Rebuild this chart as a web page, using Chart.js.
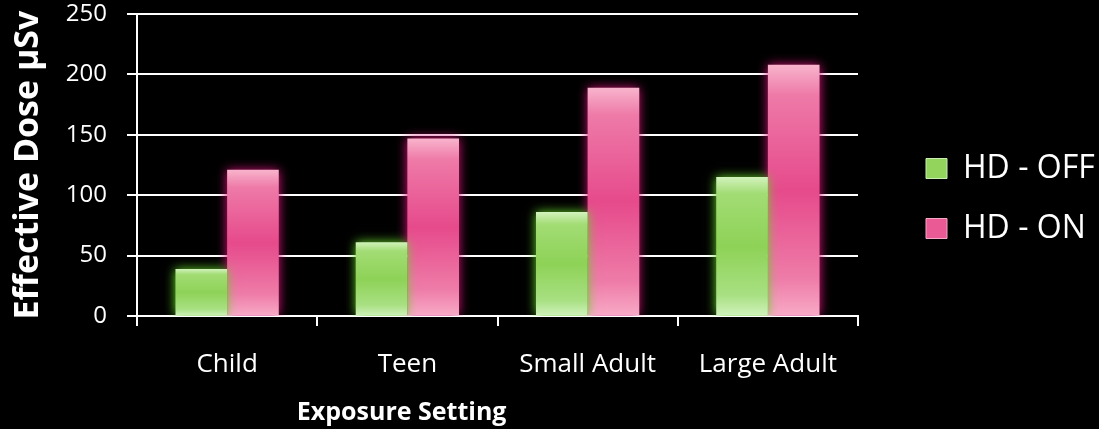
<!DOCTYPE html>
<html>
<head>
<meta charset="utf-8">
<script src="https://cdn.jsdelivr.net/npm/chart.js@4.4.1/dist/chart.umd.min.js"></script>
<style>
  html, body { margin: 0; padding: 0; background: #000; }
  #wrap { width: 1099px; height: 429px; }
</style>
</head>
<body>
<div id="wrap"><canvas id="chart1"></canvas></div>
<script>
// values
var categories = ['Child', 'Teen', 'Small Adult', 'Large Adult'];
var hdOff = [39, 61, 86, 115];
var hdOn = [121, 147, 189, 208];
var yTicks = [0, 50, 100, 150, 200, 250];
var xTitle = 'Exposure Setting';

var FONT = "'Open Sans', 'Noto Sans', sans-serif";

// per-bar vertical gradient, light top and bottom, saturated middle
function barFill(stops) {
    return function (ctx) {
        var chart = ctx.chart;
        var y = chart.scales.y;
        if (!chart.chartArea || !y || ctx.parsed === undefined) return stops[2];
        var top = y.getPixelForValue(ctx.parsed.y);
        var bottom = y.getPixelForValue(0);
        if (!isFinite(top) || !isFinite(bottom) || bottom - top < 1) return stops[2];
        var g = chart.ctx.createLinearGradient(0, top, 0, bottom);
        g.addColorStop(0, stops[0]);
        g.addColorStop(0.12, stops[1]);
        g.addColorStop(0.5, stops[2]);
        g.addColorStop(0.85, stops[3]);
        g.addColorStop(1, stops[4]);
        return g;
    };
}

var greenStops = ['#d2f2bc', '#a2dc74', '#8ed257', '#a8e082', '#d0f2bc'];
var pinkStops = ['#f8b4cc', '#ee7aa8', '#e64a8b', '#ee7ca8', '#f8aac6'];

// glow around the bars (no border, so the bar isn't clipped)
var glow = {
    id: 'glow',
    beforeDatasetDraw: function (chart, args) {
        var c = chart.ctx;
        c.save();
        c.shadowBlur = 10;
        c.shadowColor = args.index === 0 ? 'rgba(100,210,40,1)' : 'rgba(215,20,120,1)';
    },
    afterDatasetDraw: function (chart) {
        chart.ctx.restore();
    }
};

// legend sits apart from the plot, like the original
var legendPlace = {
    id: 'legendPlace',
    beforeUpdate: function (chart) {
        var lg = chart.legend;
        if (lg && !lg._placed) {
            var fit = lg.fit;
            lg.fit = function () {
                fit.call(this);
                this.width = chart.width - 858;
            };
            lg._placed = true;
        }
    },
    afterLayout: function (chart) {
        var lg = chart.legend;
        var w = lg.right - lg.left;
        lg.left = 898;
        lg.right = 898 + w;
        lg.top -= 23;
        lg.bottom -= 23;
    }
};

// x axis title, set left of centre as in the original
var xTitlePlugin = {
    id: 'xTitle',
    afterDraw: function (chart) {
        var a = chart.chartArea;
        var c = chart.ctx;
        c.save();
        c.font = 'bold 25px ' + FONT;
        c.fillStyle = '#ffffff';
        c.textAlign = 'center';
        c.textBaseline = 'alphabetic';
        c.fillText(xTitle, a.left + (a.right - a.left) * 0.367, a.bottom + 104);
        c.restore();
    }
};

function LoadChart(canvas) {
    var chartData = {
        labels: categories,
        datasets: [{
            label: 'HD - OFF',
            data: hdOff,
            backgroundColor: barFill(greenStops),
            borderWidth: 0,
        }, {
            label: 'HD - ON',
            data: hdOn,
            backgroundColor: barFill(pinkStops),
            borderWidth: 0,
        }]
    };
    var chartOptions = {
        responsive: true,
        maintainAspectRatio: false,
        animation: false,
        layout: {
            padding: { top: 14, left: 0, right: 0, bottom: 0 }
        },
        datasets: {
            bar: {
                categoryPercentage: 0.573,
                barPercentage: 1.0,
            }
        },
        plugins: {
            legend: {
                position: 'right',
                labels: {
                    color: '#ffffff',
                    font: { family: FONT, size: 32 },
                    boxWidth: 21,
                    boxHeight: 20,
                    padding: 28,
                    generateLabels: function (chart) {
                        return chart.data.datasets.map(function (ds, i) {
                            return {
                                text: ds.label,
                                fillStyle: i === 0 ? '#92d45c' : '#ea5a95',
                                strokeStyle: i === 0 ? '#c8eeb0' : '#f6a8c6',
                                lineWidth: 1,
                                fontColor: '#ffffff',
                                datasetIndex: i,
                                hidden: false,
                            };
                        });
                    }
                }
            },
            tooltip: { enabled: false },
        },
        scales: {
            x: {
                offset: true,
                grid: {
                    offset: true,
                    drawOnChartArea: false,
                    drawTicks: true,
                    tickLength: 10,
                    color: '#ffffff',
                    lineWidth: 2,
                },
                border: { display: true, color: '#ffffff', width: 2 },
                ticks: {
                    color: '#ffffff',
                    font: { family: FONT, size: 26 },
                    autoSkip: false,
                    maxRotation: 0,
                    minRotation: 0,
                    padding: 23,
                },
                afterFit: function (scale) {
                    scale.height = 113;
                    scale.paddingLeft = 0;
                    scale.paddingRight = 0;
                }
            },
            y: {
                min: 0,
                max: 250,
                afterBuildTicks: function (scale) {
                    scale.ticks = yTicks.map(function (v) { return { value: v }; });
                },
                grid: {
                    color: '#ffffff',
                    lineWidth: 2,
                    drawTicks: true,
                    tickLength: 10,
                },
                border: { display: true, color: '#ffffff', width: 2 },
                ticks: {
                    color: '#ffffff',
                    font: { family: FONT, size: 24 },
                    padding: 20,
                },
                title: {
                    display: true,
                    text: 'Effective Dose µSv',
                    color: '#ffffff',
                    font: { family: FONT, size: 34, weight: 'bold' },
                    padding: { top: 8, bottom: 0 },
                },
                afterFit: function (scale) {
                    scale.width = 137;
                    scale.paddingTop = 0;
                    scale.paddingBottom = 0;
                }
            }
        }
    };
    var ctx = document.getElementById(canvas).getContext('2d');
    var myChart = new Chart(ctx, {
        type: 'bar',
        data: chartData,
        options: chartOptions,
        plugins: [glow, legendPlace, xTitlePlugin]
    });
    myChart.update();
}

LoadChart('chart1');
</script>
</body>
</html>
